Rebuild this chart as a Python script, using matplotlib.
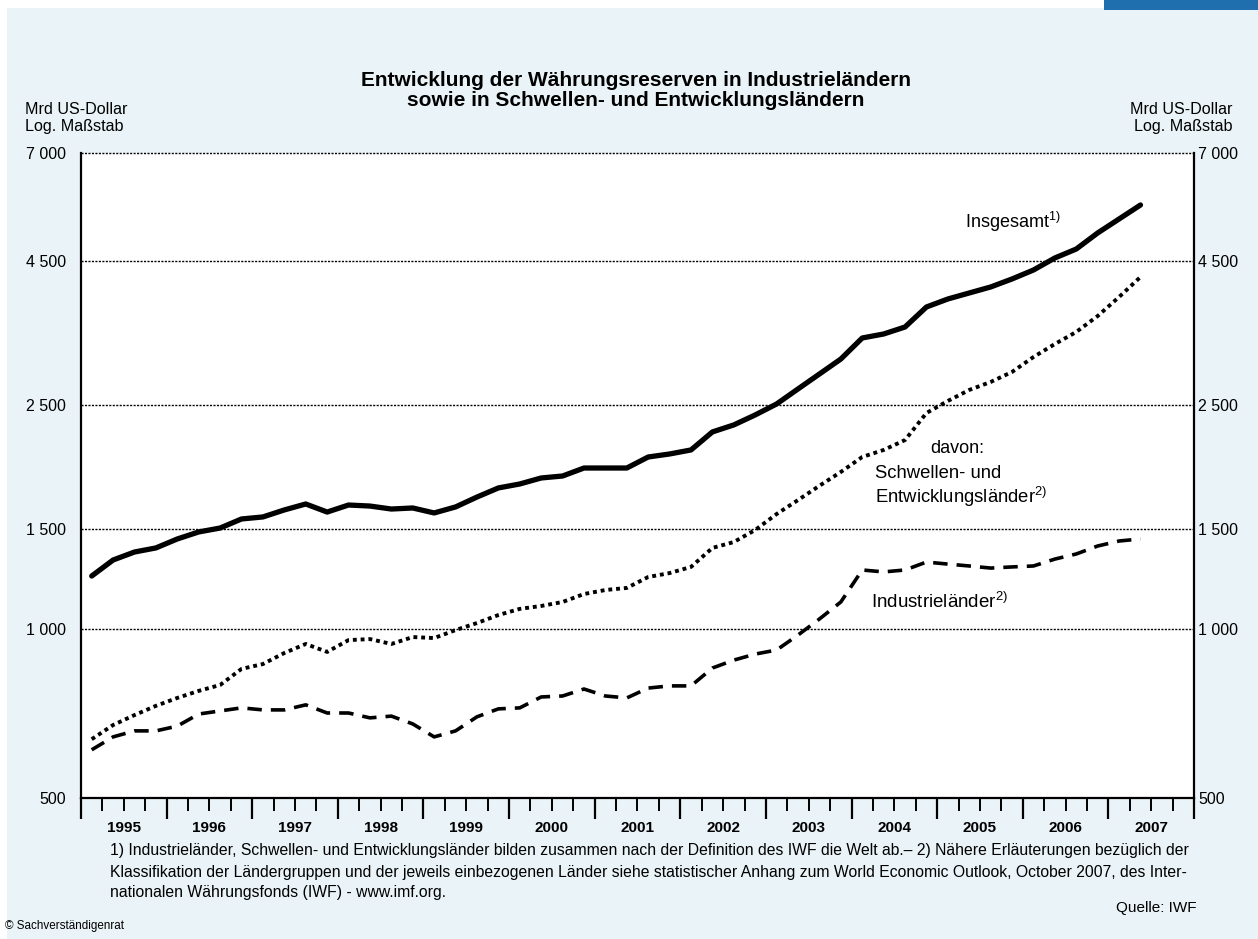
import matplotlib
matplotlib.use('Agg')
import matplotlib.pyplot as plt
import matplotlib.transforms as mtransforms
from matplotlib.patches import Rectangle
from matplotlib.ticker import NullLocator

plt.rcParams['font.family'] = ['Liberation Sans', 'DejaVu Sans']
plt.rcParams['mathtext.fontset'] = 'custom'
plt.rcParams['mathtext.rm'] = 'Liberation Sans'
plt.rcParams['mathtext.it'] = 'Liberation Sans:italic'
plt.rcParams['mathtext.bf'] = 'Liberation Sans:bold'

# %% Daten (Mrd US-Dollar, Quartalswerte 1995 Q1 bis 2007 Q2)
years = list(range(1995, 2008))
quarters = [(y, q) for y in years for q in range(1, 5)][:50]

insgesamt = [1240, 1324, 1368, 1391, 1443, 1485, 1509, 1566, 1579, 1625,
             1665, 1611, 1658, 1651, 1631, 1638, 1605, 1645, 1713, 1778,
             1807, 1852, 1867, 1929, 1929, 1929, 2018, 2043, 2077, 2236,
             2301, 2397, 2507, 2666, 2834, 3013, 3284, 3338, 3435, 3728,
             3852, 3948, 4046, 4181, 4337, 4556, 4726, 5047, 5344, 5659]

schwellen = [636, 674, 702, 729, 753, 775, 794, 848, 865, 905,
             939, 909, 954, 958, 939, 966, 962, 994, 1023, 1057,
             1084, 1097, 1115, 1152, 1171, 1181, 1235, 1255, 1287, 1391,
             1425, 1497, 1598, 1692, 1794, 1898, 2018, 2077, 2163, 2416,
             2538, 2655, 2743, 2858, 3038, 3204, 3366, 3593, 3884, 4215]

industrie = [609, 642, 658, 658, 671, 705, 714, 723, 717, 717,
             732, 708, 708, 694, 699, 677, 642, 658, 697, 720,
             723, 756, 759, 781, 759, 753, 784, 791, 791, 851,
             879, 901, 916, 974, 1040, 1115, 1271, 1261, 1271, 1313,
             1302, 1292, 1281, 1287, 1292, 1329, 1357, 1402, 1431, 1443]

y_ticks = [500, 1000, 1500, 2500, 4500, 7000]
y_labels = ['500', '1 000', '1 500', '2 500', '4 500', '7 000']

x = [y + (q - 0.5) / 4 for y, q in quarters]

W, H = 1258, 939
def px(xp, yp):
    return xp / W, 1 - yp / H

# %% Figur
fig = plt.figure(figsize=(W / 100, H / 100), dpi=100)
fig.patch.set_facecolor('white')
fig.patches.append(Rectangle((7 / W, 0), 1 - 7 / W, 1 - 8 / H, transform=fig.transFigure,
                             facecolor='#eaf3f7', edgecolor='none', zorder=-3))
fig.patches.append(Rectangle((1104 / W, 1 - 10 / H), 1 - 1104 / W, 10 / H, transform=fig.transFigure,
                             facecolor='#1f6fae', edgecolor='none', zorder=-2))

ax = fig.add_axes([81 / W, 1 - 798 / H, (1194 - 81) / W, (798 - 153) / H])
ax.set_facecolor('white')
ax.set_yscale('log')
ax.set_ylim(500, 7000)
ax.set_xlim(1995, 2008)

for v in y_ticks[1:]:
    ax.axhline(v, color='black', lw=1.0, ls=(0, (1.5, 1)), clip_on=False, zorder=1)

ax.plot(x, insgesamt, color='black', lw=3.8, solid_capstyle='round',
        solid_joinstyle='round', zorder=3)
ax.plot(x, schwellen, color='black', lw=2.8, ls=(0, (1, 1)), zorder=3)
ax.plot(x, industrie, color='black', lw=2.6, ls=(0, (4, 2.5)), zorder=3)

ax.spines['top'].set_visible(False)
for s in ['left', 'right', 'bottom']:
    ax.spines[s].set_linewidth(1.6)

# y-Achsen links und rechts
ax.set_yticks(y_ticks)
ax.set_yticklabels(y_labels)
ax.yaxis.set_minor_locator(NullLocator())
ax.tick_params(axis='y', which='both', length=0, pad=11, labelsize=11.5)

ax2 = ax.twinx()
ax2.set_yscale('log')
ax2.set_ylim(500, 7000)
ax2.set_yticks(y_ticks)
ax2.set_yticklabels(y_labels)
ax2.yaxis.set_minor_locator(NullLocator())
ax2.tick_params(axis='y', which='both', length=0, pad=3, labelsize=11.5)
for s in ax2.spines.values():
    s.set_visible(False)

# x-Achse: Jahresstriche und Quartalsstriche
ax.set_xticks(years + [2008])
ax.set_xticks([y + q / 4 for y in years for q in (1, 2, 3)], minor=True)
ax.tick_params(axis='x', which='major', length=15, width=1.6, direction='out', labelbottom=False)
ax.tick_params(axis='x', which='minor', length=9, width=1.4, direction='out')

trans = mtransforms.blended_transform_factory(ax.transData, ax.transAxes)
for yr in years:
    ax.text(yr + 0.5, -30 / 645, str(yr), transform=trans, ha='center', va='center',
            fontsize=11, fontweight='bold')

# Beschriftungen im Diagramm
fig.text(*px(965, 222), 'Insgesamt$^{1)}$', fontsize=13, va='center', ha='left')
fig.text(*px(930, 449), 'davon:', fontsize=13, va='center', ha='left')
fig.text(*px(875, 474), 'Schwellen- und', fontsize=13.3, va='center', ha='left')
fig.text(*px(875, 497), 'Entwicklungsländer$^{2)}$', fontsize=13.3, va='center', ha='left')
fig.text(*px(871, 602), 'Industrieländer$^{2)}$', fontsize=13.5, va='center', ha='left')

# Titel und Achsentitel
fig.text(*px(636, 80), 'Entwicklung der Währungsreserven in Industrieländern',
         fontsize=15, fontweight='bold', ha='center', va='center')
fig.text(*px(636, 101), 'sowie in Schwellen- und Entwicklungsländern',
         fontsize=15, fontweight='bold', ha='center', va='center')
fig.text(*px(25, 110), 'Mrd US-Dollar', fontsize=11.6, ha='left', va='center')
fig.text(*px(25, 127), 'Log. Maßstab', fontsize=11.6, ha='left', va='center')
fig.text(*px(1233, 110), 'Mrd US-Dollar', fontsize=11.6, ha='right', va='center')
fig.text(*px(1233, 127), 'Log. Maßstab', fontsize=11.6, ha='right', va='center')

# Fußnoten
notes = ['1) Industrieländer, Schwellen- und Entwicklungsländer bilden zusammen nach der Definition des IWF die Welt ab.– 2) Nähere Erläuterungen bezüglich der',
         'Klassifikation der Ländergruppen und der jeweils einbezogenen Länder siehe statistischer Anhang zum World Economic Outlook, October 2007, des Inter-',
         'nationalen Währungsfonds (IWF) - www.imf.org.']
for k, line in enumerate(notes):
    fig.text(*px(110, 851 + 21 * k), line, fontsize=11.3, ha='left', va='center')
fig.text(*px(1197, 908), 'Quelle: IWF', fontsize=11, ha='right', va='center')
fig.text(*px(5, 926), '© Sachverständigenrat', fontsize=8.4, ha='left', va='center')

fig.savefig('out.png', dpi=100, facecolor=fig.get_facecolor())
